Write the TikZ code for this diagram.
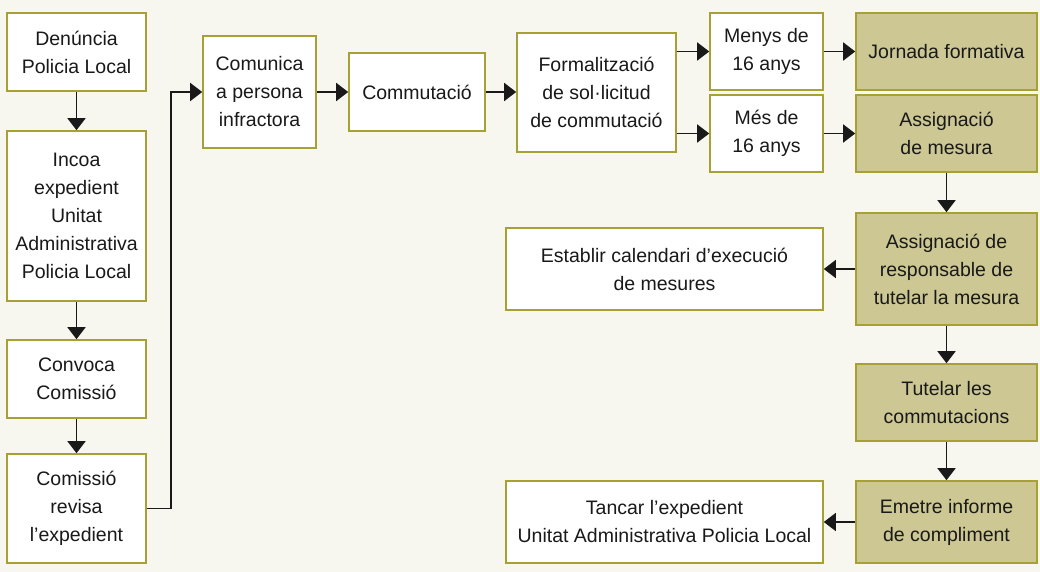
\documentclass[tikz,border=0pt]{standalone}
\usepackage{fontspec}
\setmainfont{Liberation Sans}
\usetikzlibrary{arrows.meta,calc}
\definecolor{bgc}{HTML}{F7F6EF}
\definecolor{olivec}{HTML}{A6A035}
\definecolor{khakic}{HTML}{CCC793}
\begin{document}
\begin{tikzpicture}[x=1pt,y=-1pt,
  box/.style={draw=olivec, line width=1.6pt, fill=white, align=center, inner sep=0pt,
    font=\fontsize{19.5}{28}\selectfont, text=black!90},
  shd/.style={box, fill=khakic},
  arr/.style={draw=black!90, line width=1.6pt, -{Triangle[length=12pt,width=18pt]}}]
\fill[bgc] (0,0) rectangle (1040,572);
\useasboundingbox (0,0) rectangle (1040,572);
% left column
\node[box, minimum width=139pt, minimum height=78pt] (den) at (76.5,52) {Denúncia\\Policia Local};
\node[box, minimum width=139pt, minimum height=170pt] (inc) at (76.5,216) {Incoa\\expedient\\Unitat\\Administrativa\\Policia Local};
\node[box, minimum width=139pt, minimum height=78pt] (conv) at (76.5,379) {Convoca\\Comissió};
\node[box, minimum width=139pt, minimum height=109pt] (rev) at (76.5,508.5) {Comissió\\revisa\\l’expedient};
% top row
\node[box, minimum width=113pt, minimum height=112pt] (com) at (259.5,92) {Comunica\\a persona\\infractora};
\node[box, minimum width=136pt, minimum height=78pt] (cmt) at (417,92) {Commutació};
\node[box, minimum width=159pt, minimum height=119pt] (form) at (596.5,92.5) {Formalització\\de sol·licitud\\de commutació};
\node[box, minimum width=113pt, minimum height=77pt] (men) at (766.5,51.5) {Menys de\\16 anys};
\node[box, minimum width=113pt, minimum height=77pt] (mes) at (766.5,133.5) {Més de\\16 anys};
\node[shd, minimum width=181pt, minimum height=77pt] (jor) at (946.5,51.5) {Jornada formativa};
\node[shd, minimum width=181pt, minimum height=77pt] (asg) at (946.5,133.5) {Assignació\\de mesura};
% right column
\node[shd, minimum width=181pt, minimum height=112pt] (resp) at (946.5,269) {Assignació de\\responsable de\\tutelar la mesura};
\node[box, minimum width=317pt, minimum height=82pt] (cal) at (664.5,269) {Establir calendari d’execució\\de mesures};
\node[shd, minimum width=181pt, minimum height=77pt] (tut) at (946.5,402.5) {Tutelar les\\commutacions};
\node[shd, minimum width=181pt, minimum height=82pt] (eme) at (946.5,522) {Emetre informe\\de compliment};
\node[box, minimum width=317pt, minimum height=82pt] (tan) at (664.5,522) {Tancar l’expedient\\Unitat Administrativa Policia Local};
% connectors
\draw[arr] (den) -- (inc);
\draw[arr] (inc) -- (conv);
\draw[arr] (conv) -- (rev);
\draw[arr] (rev.east) -- ++(24,0) |- (com.west);
\draw[arr] (com) -- (cmt);
\draw[arr] (cmt.east) -- (cmt.east -| form.west);
\draw[arr] (form.east |- men.west) -- (men.west);
\draw[arr] (form.east |- mes.west) -- (mes.west);
\draw[arr] (men) -- (jor);
\draw[arr] (mes) -- (asg);
\draw[arr] (asg) -- (resp);
\draw[arr] (resp) -- (cal);
\draw[arr] (resp) -- (tut);
\draw[arr] (tut) -- (eme);
\draw[arr] (eme) -- (tan);
\end{tikzpicture}
\end{document}
